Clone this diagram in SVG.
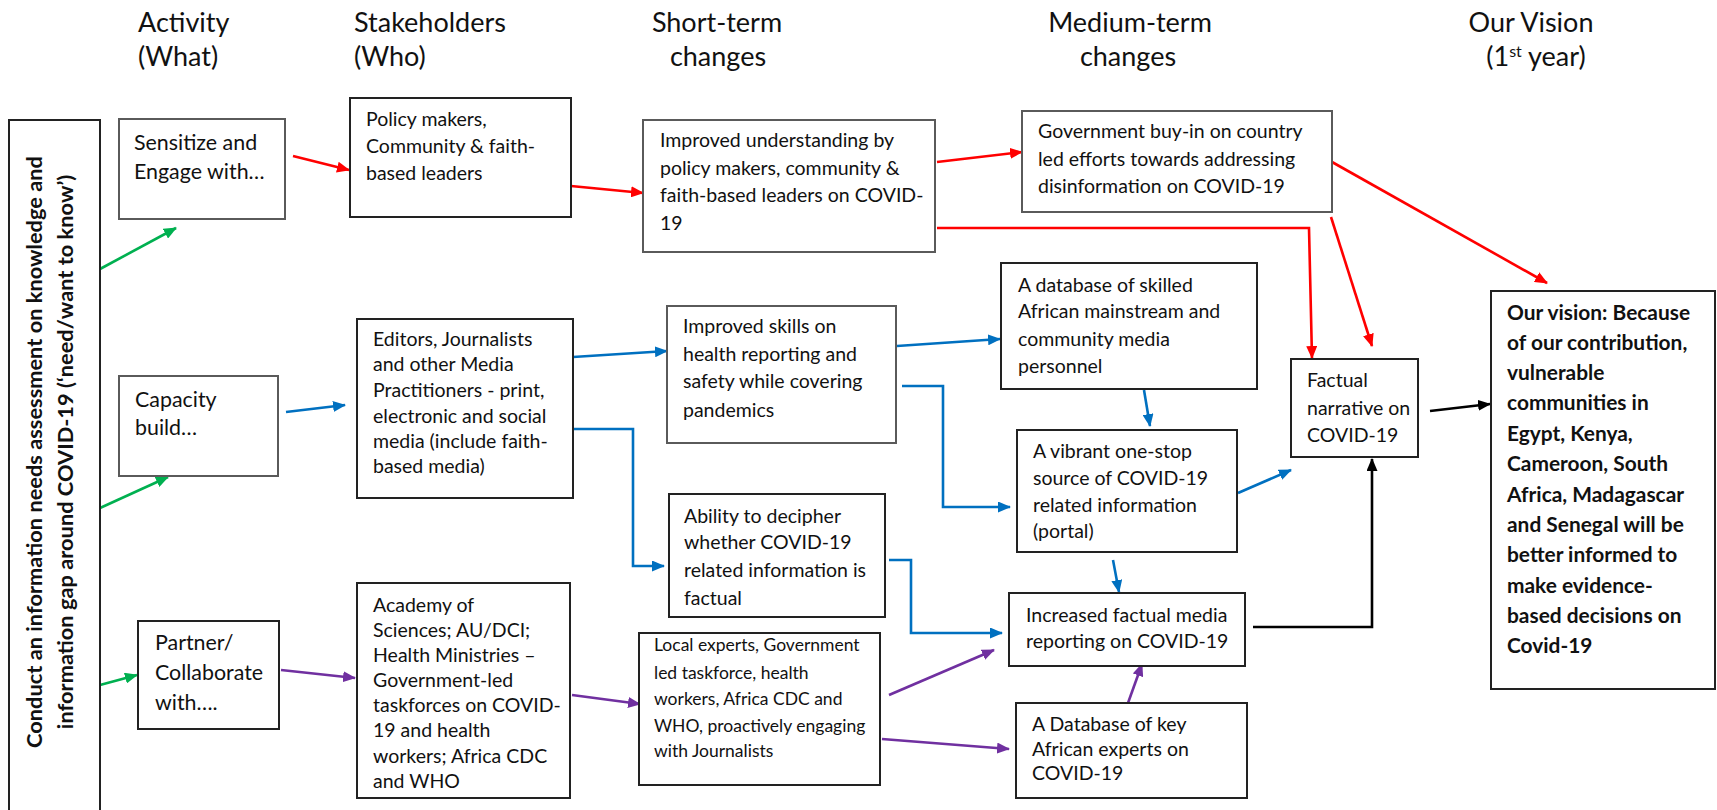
<svg xmlns="http://www.w3.org/2000/svg" width="1717" height="810" viewBox="0 0 1717 810">
<style>
text{font-family:Lato,"Liberation Sans",sans-serif;fill:#111}
.h{font-size:27px}
.t{font-size:19.5px}
.L{font-size:21.4px}
.s{font-size:17.5px}
.b{font-size:20.9px;font-weight:bold}
.v{font-size:21.8px;font-weight:bold}
.bx{fill:#fff;stroke:#222;stroke-width:2}
.bg{fill:#fff;stroke:#5a5a5a;stroke-width:2}
.c{fill:none;stroke-width:2.6}
.r{stroke:#ff0000}.g{stroke:#00b050}.bl{stroke:#0070c0}.p{stroke:#7030a0}.k{stroke:#000}
</style>
<defs>
<marker id="mr" markerWidth="13" markerHeight="11" refX="12" refY="5.5" orient="auto" markerUnits="userSpaceOnUse"><path d="M0,0 L13,5.5 L0,11 Z" fill="#ff0000"/></marker>
<marker id="mg" markerWidth="13" markerHeight="11" refX="12" refY="5.5" orient="auto" markerUnits="userSpaceOnUse"><path d="M0,0 L13,5.5 L0,11 Z" fill="#00b050"/></marker>
<marker id="mb" markerWidth="13" markerHeight="11" refX="12" refY="5.5" orient="auto" markerUnits="userSpaceOnUse"><path d="M0,0 L13,5.5 L0,11 Z" fill="#0070c0"/></marker>
<marker id="mp" markerWidth="13" markerHeight="11" refX="12" refY="5.5" orient="auto" markerUnits="userSpaceOnUse"><path d="M0,0 L13,5.5 L0,11 Z" fill="#7030a0"/></marker>
<marker id="mk" markerWidth="13" markerHeight="11" refX="12" refY="5.5" orient="auto" markerUnits="userSpaceOnUse"><path d="M0,0 L13,5.5 L0,11 Z" fill="#000"/></marker>
</defs>
<rect width="1717" height="810" fill="#fff"/>
<g id="headers">
<text class="h" x="138" y="32">Activity</text>
<text class="h" x="138" y="66">(What)</text>
<text class="h" x="354" y="32">Stakeholders</text>
<text class="h" x="354" y="66">(Who)</text>
<text class="h" x="717" y="32" text-anchor="middle">Short-term</text>
<text class="h" x="718" y="66" text-anchor="middle">changes</text>
<text class="h" x="1130" y="32" text-anchor="middle">Medium-term</text>
<text class="h" x="1128" y="66" text-anchor="middle">changes</text>
<text class="h" x="1531" y="32" text-anchor="middle">Our Vision</text>
<text class="h" x="1536" y="66" text-anchor="middle">(1<tspan dy="-9" font-size="16">st</tspan><tspan dy="9"> year)</tspan></text>
</g>
<g id="connectors">
<line class="c g" x1="100" y1="269" x2="176" y2="228" marker-end="url(#mg)"/>
<line class="c g" x1="100" y1="508" x2="168" y2="477" marker-end="url(#mg)"/>
<line class="c g" x1="100" y1="685" x2="137" y2="675" marker-end="url(#mg)"/>
<line class="c r" x1="293" y1="156" x2="349" y2="170" marker-end="url(#mr)"/>
<line class="c r" x1="571" y1="186" x2="643" y2="193" marker-end="url(#mr)"/>
<line class="c r" x1="937" y1="162" x2="1022" y2="152" marker-end="url(#mr)"/>
<polyline class="c r" points="937,228 1309,228 1312,358" marker-end="url(#mr)"/>
<line class="c r" x1="1331" y1="217" x2="1372" y2="346" marker-end="url(#mr)"/>
<line class="c r" x1="1332" y1="162" x2="1547" y2="283" marker-end="url(#mr)"/>
<line class="c bl" x1="286" y1="412" x2="345" y2="405" marker-end="url(#mb)"/>
<line class="c bl" x1="573" y1="357" x2="667" y2="351" marker-end="url(#mb)"/>
<polyline class="c bl" points="573,429 633,429 633,566 664,566" marker-end="url(#mb)"/>
<line class="c bl" x1="897" y1="346" x2="1000" y2="339" marker-end="url(#mb)"/>
<polyline class="c bl" points="902,386 943,386 943,507 1010,507" marker-end="url(#mb)"/>
<line class="c bl" x1="1144" y1="390" x2="1150" y2="426" marker-end="url(#mb)"/>
<line class="c bl" x1="1238" y1="493" x2="1291" y2="470" marker-end="url(#mb)"/>
<line class="c bl" x1="1113" y1="560" x2="1119" y2="592" marker-end="url(#mb)"/>
<polyline class="c bl" points="889,560 911,560 911,633 1002,633" marker-end="url(#mb)"/>
<line class="c p" x1="281" y1="670" x2="355" y2="678" marker-end="url(#mp)"/>
<line class="c p" x1="572" y1="695" x2="640" y2="704" marker-end="url(#mp)"/>
<line class="c p" x1="889" y1="695" x2="994" y2="650" marker-end="url(#mp)"/>
<line class="c p" x1="882" y1="739" x2="1009" y2="749" marker-end="url(#mp)"/>
<line class="c p" x1="1128" y1="703" x2="1142" y2="664" marker-end="url(#mp)"/>
<polyline class="c k" points="1253,627 1372,627 1372,459" marker-end="url(#mk)"/>
<line class="c k" x1="1430" y1="411" x2="1490" y2="404" marker-end="url(#mk)"/>
</g>
<g id="n-assess">
<rect class="bx" x="9" y="120" width="91" height="700"/>
<text class="v" transform="translate(42,452) rotate(-90)" text-anchor="middle">Conduct an information needs assessment on knowledge and</text>
<text class="v" transform="translate(73,452) rotate(-90)" text-anchor="middle">information gap around COVID-19 (‘need/want to know’)</text>
</g>
<g id="n-sensitize">
<rect class="bg" x="119" y="119" width="166" height="100"/>
<text class="L" x="134" y="150">Sensitize and</text>
<text class="L" x="134" y="179">Engage with…</text>
</g>
<g id="n-capacity">
<rect class="bg" x="119" y="376" width="159" height="100"/>
<text class="L" x="135" y="407">Capacity</text>
<text class="L" x="135" y="435">build…</text>
</g>
<g id="n-partner">
<rect class="bx" x="138" y="621" width="141" height="108"/>
<text class="L" x="155" y="650">Partner/</text>
<text class="L" x="155" y="680">Collaborate</text>
<text class="L" x="155" y="710">with….</text>
</g>
<g id="n-policy">
<rect class="bx" x="350" y="98" width="221" height="119"/>
<text class="t" x="366" y="126">Policy makers,</text>
<text class="t" x="366" y="153">Community &amp; faith-</text>
<text class="t" x="366" y="180">based leaders</text>
</g>
<g id="n-editors">
<rect class="bx" x="357" y="319" width="216" height="179"/>
<text class="t" x="373" y="346">Editors, Journalists</text>
<text class="t" x="373" y="371">and other Media</text>
<text class="t" x="373" y="397">Practitioners - print,</text>
<text class="t" x="373" y="423">electronic and social</text>
<text class="t" x="373" y="448">media (include faith-</text>
<text class="t" x="373" y="473">based media)</text>
</g>
<g id="n-academy">
<rect class="bx" x="357" y="583" width="213" height="215"/>
<text class="t" x="373" y="612">Academy of</text>
<text class="t" x="373" y="637">Sciences; AU/DCI;</text>
<text class="t" x="373" y="662">Health Ministries –</text>
<text class="t" x="373" y="687">Government-led</text>
<text class="t" x="373" y="712">taskforces on COVID-</text>
<text class="t" x="373" y="737">19 and health</text>
<text class="t" x="373" y="763">workers; Africa CDC</text>
<text class="t" x="373" y="788">and WHO</text>
</g>
<g id="n-understanding">
<rect class="bg" x="643" y="120" width="292" height="132"/>
<text class="t" x="660" y="147">Improved understanding by</text>
<text class="t" x="660" y="175">policy makers, community &amp;</text>
<text class="t" x="660" y="202">faith-based leaders on COVID-</text>
<text class="t" x="660" y="230">19</text>
</g>
<g id="n-skills">
<rect class="bg" x="667" y="306" width="229" height="137"/>
<text class="t" x="683" y="333">Improved skills on</text>
<text class="t" x="683" y="361">health reporting and</text>
<text class="t" x="683" y="388">safety while covering</text>
<text class="t" x="683" y="417">pandemics</text>
</g>
<g id="n-ability">
<rect class="bx" x="669" y="494" width="216" height="123"/>
<text class="t" x="684" y="523">Ability to decipher</text>
<text class="t" x="684" y="549">whether COVID-19</text>
<text class="t" x="684" y="577">related information is</text>
<text class="t" x="684" y="605">factual</text>
</g>
<g id="n-local">
<rect class="bx" x="639" y="633" width="241" height="152"/>
<text class="s" x="654" y="651">Local experts, Government</text>
<text class="s" x="654" y="679">led taskforce, health</text>
<text class="s" x="654" y="705">workers, Africa CDC and</text>
<text class="s" x="654" y="732">WHO, proactively engaging</text>
<text class="s" x="654" y="757">with Journalists</text>
</g>
<g id="n-government">
<rect class="bg" x="1022" y="111" width="310" height="101"/>
<text class="t" x="1038" y="138">Government buy-in on country</text>
<text class="t" x="1038" y="166">led efforts towards addressing</text>
<text class="t" x="1038" y="193">disinformation on COVID-19</text>
</g>
<g id="n-dbskilled">
<rect class="bx" x="1001" y="263" width="256" height="126"/>
<text class="t" x="1018" y="292">A database of skilled</text>
<text class="t" x="1018" y="318">African mainstream and</text>
<text class="t" x="1018" y="346">community media</text>
<text class="t" x="1018" y="373">personnel</text>
</g>
<g id="n-vibrant">
<rect class="bx" x="1017" y="430" width="220" height="122"/>
<text class="t" x="1033" y="458">A vibrant one-stop</text>
<text class="t" x="1033" y="485">source of COVID-19</text>
<text class="t" x="1033" y="512">related information</text>
<text class="t" x="1033" y="538">(portal)</text>
</g>
<g id="n-increased">
<rect class="bx" x="1009" y="593" width="236" height="73"/>
<text class="t" x="1026" y="622">Increased factual media</text>
<text class="t" x="1026" y="648">reporting on COVID-19</text>
</g>
<g id="n-dbkey">
<rect class="bx" x="1016" y="703" width="231" height="95"/>
<text class="t" x="1032" y="731">A Database of key</text>
<text class="t" x="1032" y="756">African experts on</text>
<text class="t" x="1032" y="780">COVID-19</text>
</g>
<g id="n-factual">
<rect class="bx" x="1291" y="359" width="127" height="98"/>
<text class="t" x="1307" y="387">Factual</text>
<text class="t" x="1307" y="415">narrative on</text>
<text class="t" x="1307" y="442">COVID-19</text>
</g>
<g id="n-vision">
<rect class="bx" x="1491" y="291" width="224" height="398"/>
<text class="b" x="1507" y="320">Our vision: Because</text>
<text class="b" x="1507" y="350">of our contribution,</text>
<text class="b" x="1507" y="380">vulnerable</text>
<text class="b" x="1507" y="410">communities in</text>
<text class="b" x="1507" y="441">Egypt, Kenya,</text>
<text class="b" x="1507" y="471">Cameroon, South</text>
<text class="b" x="1507" y="502">Africa, Madagascar</text>
<text class="b" x="1507" y="532">and Senegal will be</text>
<text class="b" x="1507" y="562">better informed to</text>
<text class="b" x="1507" y="593">make evidence-</text>
<text class="b" x="1507" y="623">based decisions on</text>
<text class="b" x="1507" y="653">Covid-19</text>
</g>
</svg>
